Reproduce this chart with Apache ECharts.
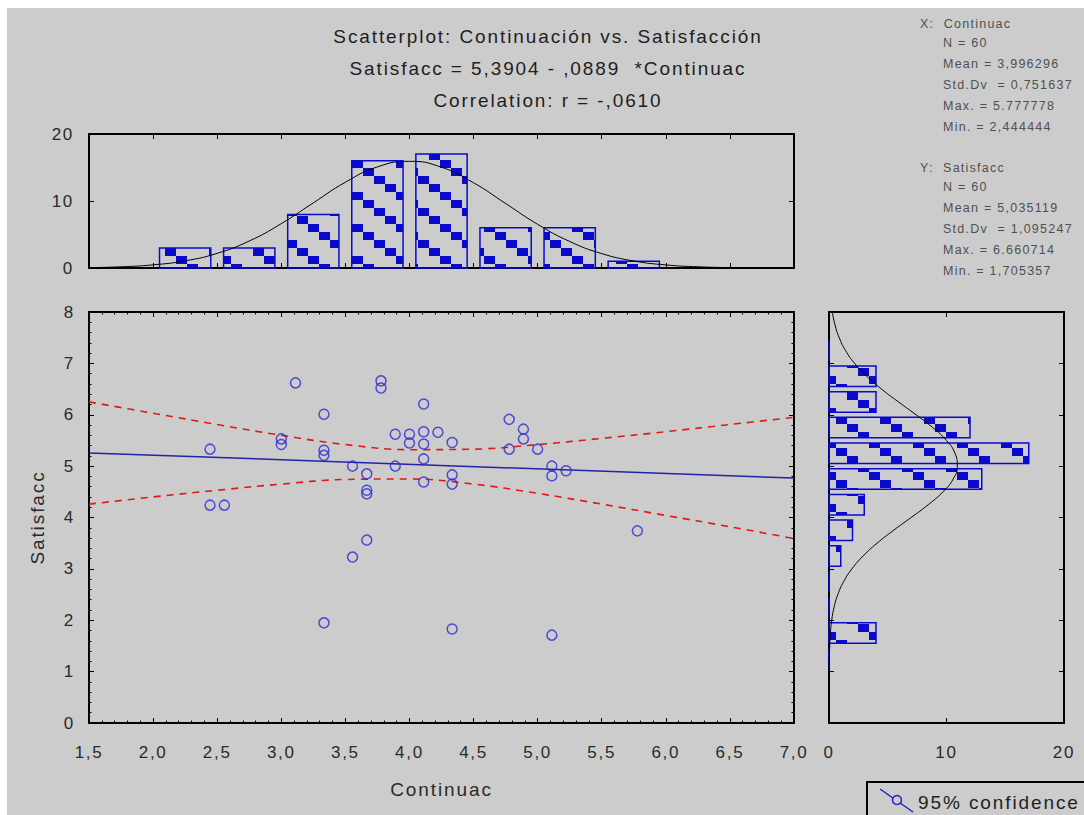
<!DOCTYPE html>
<html><head><meta charset="utf-8">
<script src="https://cdn.jsdelivr.net/npm/echarts@6/dist/echarts.min.js"></script>
<style>
html,body{margin:0;padding:0;background:#fff;}
#main{width:1084px;height:815px;}
#main svg text{letter-spacing:0.1em;}
</style></head><body><div id="main"></div>
<script>
// ---- data ----
const contX = [2.444,2.444,2.556,3.0,3.0,3.111,3.333,3.333,3.333,3.333,3.556,3.556,3.667,3.667,3.667,3.667,3.778,3.778,3.889,3.889,4.0,4.0,4.111,4.111,4.111,4.111,4.111,4.222,4.333,4.333,4.333,4.333,4.778,4.889,4.889,4.778,5.0,5.111,5.111,5.222,5.778,5.111];
const satY  = [5.33,4.24,4.24,5.53,5.42,6.62,6.01,5.31,5.21,1.95,5.00,3.23,4.85,4.53,4.46,3.56,6.66,6.52,5.62,5.00,5.62,5.45,6.21,5.67,5.43,5.14,4.69,5.66,5.46,4.83,4.65,1.83,5.91,5.72,5.53,5.33,5.33,5.00,4.81,4.91,3.74,1.71];

const xBinStart = [2.0,2.5,3.0,3.5,4.0,4.5,5.0,5.5];
const xBinEnd   = [2.5,3.0,3.5,4.0,4.5,5.0,5.5,6.0];
const xCounts   = [3,3,8,16,17,6,6,1];

const yBinStart = [1.0,1.5,2.0,2.5,3.0,3.5,4.0,4.5,5.0,5.5,6.0,6.5,7.0];
const yBinEnd   = [1.5,2.0,2.5,3.0,3.5,4.0,4.5,5.0,5.5,6.0,6.5,7.0,7.5];
const yCounts   = [0,4,0,0,1,2,3,13,17,12,4,4,0];

const xCurveX = [1.5,1.75,2.0,2.25,2.5,2.75,3.0,3.25,3.5,3.75,4.0,4.25,4.5,4.75,5.0,5.25,5.5,5.75,6.0,6.25,6.5];
const xCurveN = [0.06,0.18,0.47,1.07,2.19,4.03,6.62,9.72,12.80,15.09,15.92,15.04,12.72,9.63,6.52,3.96,2.15,1.05,0.46,0.18,0.06];

const yCurveY = [1.0,1.25,1.5,1.75,2.0,2.25,2.5,2.75,3.0,3.25,3.5,3.75,4.0,4.25,4.5,4.75,5.0,5.25,5.5,5.75,6.0,6.25,6.5,6.75,7.0,7.25,7.5,7.75,8.0];
const yCurveN = [0.01,0.03,0.06,0.12,0.23,0.43,0.75,1.24,1.95,2.90,4.09,5.49,6.99,8.45,9.70,10.57,10.92,10.72,9.99,8.83,7.41,5.91,4.47,3.21,2.18,1.41,0.87,0.51,0.28];

const regX = [1.5,7.0];
const regY = [5.257,4.768];
const ciX = [1.5,2.0,2.5,3.0,3.5,4.0,4.5,5.0,5.5,6.0,6.5,7.0];
const ciUpper = [6.25,6.03,5.81,5.60,5.42,5.32,5.33,5.42,5.54,5.67,5.81,5.95];
const ciLower = [4.26,4.40,4.53,4.65,4.74,4.75,4.65,4.47,4.26,4.04,3.82,3.59];

const titleLines = ['Scatterplot: Continuación vs. Satisfacción','Satisfacc = 5,3904 - ,0889  *Continuac','Correlation: r = -,0610'];
const statsX = ['N = 60','Mean = 3,996296','Std.Dv  = 0,751637','Max. = 5.777778','Min. = 2,444444'];
const statsY = ['N = 60','Mean = 5,035119','Std.Dv  = 1,095247','Max. = 6.660714','Min. = 1,705357'];

// ---- styling ----
const FF = "'Liberation Sans', Arial, sans-serif";
const BG = '#cccccc';
const BLUE = '#0a0acc';

const tile = document.createElement('canvas');
tile.width = 44; tile.height = 32;
(function(){const c = tile.getContext('2d'); c.fillStyle = BLUE; for (let i = 0; i < 4; i++) c.fillRect(i*11, i*8, 11, 8);})();
const pattern = {image: tile, repeat: 'repeat', imageWidth: 44, imageHeight: 32};

function ax(o) {
  const base = {
    axisLine: {show: true, onZero: false, lineStyle: {color: '#000', width: 2}},
    axisTick: {show: true, inside: true, length: 5, lineStyle: {color: '#000', width: 1}},
    splitLine: {show: false},
    axisLabel: {show: false, color: '#2a2a2a', fontSize: 17, fontFamily: FF}
  };
  return Object.assign(base, o);
}
const fmtComma = v => v.toFixed(1).replace('.', ',');

const grids = [
  {left: 89, top: 134, width: 705, height: 134, outerBoundsMode: 'none'},
  {left: 89, top: 312, width: 705, height: 411, outerBoundsMode: 'none'},
  {left: 829, top: 312, width: 235, height: 411, outerBoundsMode: 'none'}
];

const xAxes = [
  ax({type: 'value', gridIndex: 0, min: 1.5, max: 7.0, interval: 0.5, position: 'bottom'}),
  ax({type: 'value', gridIndex: 0, min: 1.5, max: 7.0, interval: 0.5, position: 'top'}),
  ax({type: 'value', gridIndex: 1, min: 1.5, max: 7.0, interval: 0.5, position: 'bottom',
      minorTick: {show: true, splitNumber: 5, length: 2.5, lineStyle: {color: '#000'}},
      axisLabel: {show: true, formatter: fmtComma, margin: 21, color: '#2a2a2a', fontSize: 17, fontFamily: FF},
      name: 'Continuac', nameLocation: 'middle', nameGap: 57,
      nameTextStyle: {fontSize: 19, color: '#2a2a2a', fontFamily: FF}}),
  ax({type: 'value', gridIndex: 1, min: 1.5, max: 7.0, interval: 0.5, position: 'top',
      minorTick: {show: true, splitNumber: 5, length: 2.5, lineStyle: {color: '#000'}}}),
  ax({type: 'value', gridIndex: 2, min: 0, max: 20, interval: 10, position: 'bottom',
      axisLabel: {show: true, margin: 21, color: '#2a2a2a', fontSize: 17, fontFamily: FF}}),
  ax({type: 'value', gridIndex: 2, min: 0, max: 20, interval: 10, position: 'top'})
];
const yAxes = [
  ax({type: 'value', gridIndex: 0, min: 0, max: 20, interval: 10, position: 'left',
      axisLabel: {show: true, margin: 15, color: '#2a2a2a', fontSize: 17, fontFamily: FF}}),
  ax({type: 'value', gridIndex: 0, min: 0, max: 20, interval: 10, position: 'right'}),
  ax({type: 'value', gridIndex: 1, min: 0, max: 8, interval: 1, position: 'left',
      minorTick: {show: true, splitNumber: 5, length: 2.5, lineStyle: {color: '#000'}},
      axisLabel: {show: true, margin: 14, color: '#2a2a2a', fontSize: 17, fontFamily: FF},
      name: 'Satisfacc', nameLocation: 'middle', nameGap: 42, nameRotate: 90,
      nameTextStyle: {fontSize: 19, color: '#2a2a2a', fontFamily: FF}}),
  ax({type: 'value', gridIndex: 1, min: 0, max: 8, interval: 1, position: 'right',
      minorTick: {show: true, splitNumber: 5, length: 2.5, lineStyle: {color: '#000'}}}),
  ax({type: 'value', gridIndex: 2, min: 0, max: 8, interval: 1, position: 'left'}),
  ax({type: 'value', gridIndex: 2, min: 0, max: 8, interval: 1, position: 'right'})
];

function vBar(params, api) {
  const s = api.value(0), e = api.value(1), c = api.value(2);
  const p0 = api.coord([s, 0]), p1 = api.coord([e, c]);
  const w = p1[0] - p0[0], g = w * 0.1;
  return {type: 'rect', shape: {x: p0[0] + g, y: p1[1], width: w - 2 * g, height: p0[1] - p1[1]},
          style: {fill: pattern, stroke: BLUE, lineWidth: 1.5}};
}
function hBar(params, api) {
  const s = api.value(0), e = api.value(1), c = api.value(2);
  const p0 = api.coord([0, s]), p1 = api.coord([c, e]);
  const h = p0[1] - p1[1], g = h * 0.1;
  return {type: 'rect', shape: {x: p0[0], y: p1[1] + g, width: p1[0] - p0[0], height: h - 2 * g},
          style: {fill: pattern, stroke: BLUE, lineWidth: 1.5}};
}

const option = {
  backgroundColor: BG,
  animation: false,
  title: [
    {text: titleLines.join('\n'), left: 548, top: 20, textAlign: 'center', padding: 0,
     textStyle: {fontSize: 19, lineHeight: 32, fontWeight: 'normal', color: '#1e1e1e', fontFamily: FF}},
    {text: 'X:  Continuac', left: 920, top: 16, padding: 0,
     textStyle: {fontSize: 12.5, lineHeight: 16, fontWeight: 'normal', color: '#505050', fontFamily: FF}},
    {text: statsX.join('\n'), left: 943, top: 32, padding: 0,
     textStyle: {fontSize: 12.5, lineHeight: 21, fontWeight: 'normal', color: '#505050', fontFamily: FF}},
    {text: 'Y:  Satisfacc', left: 920, top: 160, padding: 0,
     textStyle: {fontSize: 12.5, lineHeight: 16, fontWeight: 'normal', color: '#505050', fontFamily: FF}},
    {text: statsY.join('\n'), left: 943, top: 177, padding: 0,
     textStyle: {fontSize: 12.5, lineHeight: 20.8, fontWeight: 'normal', color: '#505050', fontFamily: FF}}
  ],
  grid: grids,
  xAxis: xAxes,
  yAxis: yAxes,
  series: [
    {type: 'custom', xAxisIndex: 0, yAxisIndex: 0, renderItem: vBar, encode: {x: [0, 1], y: 2},
     data: xBinStart.map((s, i) => [s, xBinEnd[i], xCounts[i]]), z: 2},
    {type: 'line', xAxisIndex: 0, yAxisIndex: 0, smooth: true, symbol: 'none',
     lineStyle: {color: '#000', width: 1}, data: xCurveX.map((x, i) => [x, xCurveN[i]]), z: 3},
    {type: 'custom', xAxisIndex: 4, yAxisIndex: 4, renderItem: hBar, encode: {y: [0, 1], x: 2},
     data: yBinStart.map((s, i) => [s, yBinEnd[i], yCounts[i]]), z: 2},
    {type: 'line', xAxisIndex: 4, yAxisIndex: 4, smooth: true, symbol: 'none',
     lineStyle: {color: '#000', width: 1}, data: yCurveY.map((y, i) => [yCurveN[i], y]), z: 3},
    {type: 'line', xAxisIndex: 2, yAxisIndex: 2, symbol: 'none', smooth: 0.4,
     lineStyle: {color: '#e01818', width: 1.6, type: [7, 6]}, data: ciX.map((x, i) => [x, ciUpper[i]]), z: 3},
    {type: 'line', xAxisIndex: 2, yAxisIndex: 2, symbol: 'none', smooth: 0.4,
     lineStyle: {color: '#e01818', width: 1.6, type: [7, 6]}, data: ciX.map((x, i) => [x, ciLower[i]]), z: 3},
    {type: 'line', xAxisIndex: 2, yAxisIndex: 2, symbol: 'none',
     lineStyle: {color: '#2323a8', width: 1.5}, data: regX.map((x, i) => [x, regY[i]]), z: 4},
    {type: 'scatter', xAxisIndex: 2, yAxisIndex: 2, symbol: 'circle', symbolSize: 10,
     itemStyle: {color: 'rgba(0,0,0,0)', borderColor: '#2a2ad8', borderWidth: 1.5},
     data: contX.map((x, i) => [x, satY[i]]), z: 5}
  ],
  graphic: [
    {type: 'rect', shape: {x: 0, y: 0, width: 1084, height: 8}, style: {fill: '#fff'}, z: 100},
    {type: 'rect', shape: {x: 0, y: 0, width: 7, height: 815}, style: {fill: '#fff'}, z: 100},
    {type: 'rect', shape: {x: 867, y: 782, width: 240, height: 60}, style: {fill: 'none', stroke: '#000', lineWidth: 2}, z: 100},
    {type: 'line', shape: {x1: 880, y1: 789, x2: 913, y2: 812}, style: {stroke: '#2020c0', lineWidth: 1.5}, z: 100},
    {type: 'circle', shape: {cx: 897, cy: 800, r: 4.5}, style: {fill: BG, stroke: '#2020c0', lineWidth: 1.5}, z: 101},
    {type: 'text', x: 918, y: 802, style: {text: '95% confidence', fontSize: 19, fontFamily: FF, fill: '#222', verticalAlign: 'middle'}, z: 101}
  ]
};

const chart = echarts.init(document.getElementById('main'), null, {renderer: 'svg'});
chart.setOption(option);
</script>
</body></html>
